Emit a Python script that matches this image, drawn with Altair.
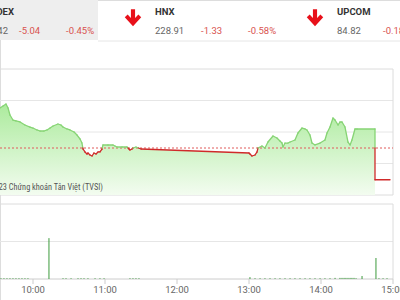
import altair as alt
import pandas as pd
import numpy as np

# ---------------- header data ----------------
index_names = ["VNINDEX", "HNX", "UPCOM"]
index_values = ["1,115.42", "228.91", "84.82"]
index_changes = ["-5.04", "-1.33", "-0.18"]
index_pcts = ["-0.45%", "-0.58%", "-0.21%"]

# ---------------- intraday VN-Index (minutes since midnight, points) ----------------
price_times = [572.5, 575.0, 577.5, 579.2, 580.8, 583.3, 585.8, 589.2, 593.3, 597.5,
               600.0, 603.3, 605.8, 609.2, 611.7, 614.2, 616.7, 620.8, 623.3, 625.0,
               628.3, 630.8, 634.2, 636.7, 639.2, 640.8, 641.7, 643.3, 645.0, 645.8,
               647.5, 649.2, 650.8, 652.5, 654.2, 655.8, 657.5, 658.3, 662.5, 666.7,
               668.3, 670.0, 674.2, 678.3, 680.0, 680.8, 682.5, 683.3, 685.8, 690.0,
               780.0, 780.8, 782.5, 785.0, 786.7, 787.5, 790.8, 793.3, 795.8, 800.0,
               803.3, 805.8, 807.5, 808.3, 810.0, 812.5, 814.2, 818.3, 820.8, 824.2,
               826.7, 828.3, 830.8, 832.5, 835.0, 839.2, 843.3, 845.0, 847.5, 850.0,
               851.7, 854.2, 855.8, 857.5, 860.0, 862.5, 864.2, 865.8, 868.3, 870.0,
               885.0]
price_values = [1126.81, 1127.13, 1127.44, 1126.81, 1125.70, 1124.90, 1124.75, 1124.59, 1124.11, 1123.79,
                1123.63, 1123.32, 1123.16, 1123.16, 1123.32, 1123.63, 1123.95, 1124.27, 1124.11, 1123.79,
                1123.48, 1123.32, 1123.00, 1122.52, 1121.89, 1121.25, 1120.30, 1119.83, 1119.51, 1119.67,
                1119.35, 1119.19, 1119.67, 1119.51, 1119.83, 1119.83, 1120.30, 1120.94, 1120.94, 1120.94,
                1120.78, 1120.62, 1120.62, 1120.62, 1120.30, 1120.14, 1120.30, 1120.46, 1120.62, 1120.30,
                1119.67, 1119.51, 1119.19, 1119.35, 1119.83, 1120.46, 1120.78, 1120.46, 1121.41, 1122.37,
                1122.05, 1121.57, 1121.25, 1120.62, 1121.25, 1121.25, 1121.41, 1121.73, 1122.84, 1123.63,
                1123.48, 1123.32, 1122.52, 1121.25, 1120.94, 1121.25, 1121.73, 1122.84, 1123.79, 1125.22,
                1124.90, 1124.11, 1124.59, 1124.59, 1123.79, 1121.41, 1120.94, 1121.73, 1123.48, 1123.48,
                1123.48]
ref_price = 1120.46
close_price = 1115.42
atc_times = [885.0, 897.5]

price_grid = [1118, 1123, 1128]
price_domain = [1113, 1133]
time_domain = [572.5, 900.0]
tick_times = [600, 660, 720, 780, 840, 900]
tick_labels = ["10:00", "11:00", "12:00", "13:00", "14:00", "15:00"]

# ---------------- volume (minutes since midnight, millions) ----------------
vol_times = [573.3, 575.8, 578.3, 580.8, 583.3, 585.8, 588.3, 590.8, 593.3, 595.8,
             613.3, 625.0, 627.5, 631.7, 637.5, 640.0, 642.5, 645.8, 651.7, 655.8,
             659.2, 680.8, 683.3, 685.8, 688.3,
             780.8, 785.0, 789.2, 793.3, 797.5, 801.7, 805.8, 810.0, 814.2, 818.3,
             822.5, 826.7, 830.8, 835.0, 839.2, 843.3, 847.5, 851.7, 855.8, 857.5,
             859.2, 860.8, 862.5, 864.2, 865.8, 867.5, 869.2, 874.2, 885.8, 888.3,
             891.7, 895.0]
vol_values = [0.02, 0.02, 0.02, 0.02, 0.02, 0.02, 0.02, 0.02, 0.02, 0.02,
              1.09, 0.02, 0.02, 0.02, 0.02, 0.02, 0.02, 0.02, 0.02, 0.02,
              0.02, 0.02, 0.02, 0.02, 0.02,
              0.05, 0.02, 0.02, 0.02, 0.02, 0.02, 0.02, 0.02, 0.02, 0.02,
              0.02, 0.02, 0.02, 0.02, 0.02, 0.02, 0.02, 0.03, 0.03, 0.03,
              0.03, 0.03, 0.03, 0.03, 0.03, 0.03, 0.02, 0.08, 0.56, 0.02,
              0.02, 0.02]
vol_grid = [1]
vol_domain = [0, 2]

# ---------------- styles ----------------
GREEN_LINE = "#86d474"
RED_LINE = "#d02a2a"
GRID = "#e6e6e6"
FRAME = "#dcdcdc"
FONT = "Roboto"

xs = alt.Scale(domain=time_domain, range=[0, 393], zero=False, nice=False)
ys_p = alt.Scale(domain=price_domain, range=[195, 69], zero=False, nice=False)
ys_v = alt.Scale(domain=vol_domain, range=[279, 204], zero=False, nice=False)


def X(field):
    return alt.X(f"{field}:Q", scale=xs, axis=None)


def YP(field):
    return alt.Y(f"{field}:Q", scale=ys_p, axis=None)


def YV(field):
    return alt.Y(f"{field}:Q", scale=ys_v, axis=None)


# ----- segments of price line split at the reference level -----
t_seq = price_times + atc_times
v_seq = price_values + [close_price, close_price]
rows = []
for i in range(len(t_seq) - 1):
    t0, v0, t1, v1 = t_seq[i], v_seq[i], t_seq[i + 1], v_seq[i + 1]
    if (v0 - ref_price) * (v1 - ref_price) < 0:
        tc = t0 + (ref_price - v0) / (v1 - v0) * (t1 - t0)
        pieces = [(t0, v0, tc, ref_price), (tc, ref_price, t1, v1)]
    else:
        pieces = [(t0, v0, t1, v1)]
    for a, b, c, d in pieces:
        rows.append({"t0": a, "v0": b, "t1": c, "v1": d,
                     "side": "up" if (b + d) / 2 >= ref_price else "down"})
seg_df = pd.DataFrame(rows)

area_df = pd.DataFrame({"t": price_times, "v": price_values, "base": price_domain[0]})

layers = []
one = pd.DataFrame({"k": [0]})

# header background & separator
layers.append(alt.Chart(one).mark_rect(color="#eeeeee").encode(
    x=alt.value(0), x2=alt.value(98), y=alt.value(0), y2=alt.value(40)))
layers.append(alt.Chart(one).mark_rule(color="#e6e6e6", strokeWidth=1).encode(
    x=alt.value(98), x2=alt.value(400), y=alt.value(41)))

# header texts
col_x = [-27, 155, 337]
for i in range(3):
    x0 = col_x[i]
    if i == 0:
        name_chart = alt.Chart(pd.DataFrame({"s": [index_names[i]]})).mark_text(
            align="right", baseline="middle", font=FONT, fontSize=9.5, fontWeight="bold", color="#333333"
        ).encode(text="s:N", x=alt.value(14), y=alt.value(12))
        val_chart = alt.Chart(pd.DataFrame({"s": [index_values[i]]})).mark_text(
            align="right", baseline="middle", font=FONT, fontSize=9.5, color="#666666"
        ).encode(text="s:N", x=alt.value(8), y=alt.value(31))
    else:
        name_chart = alt.Chart(pd.DataFrame({"s": [index_names[i]]})).mark_text(
            align="left", baseline="middle", font=FONT, fontSize=9.5, fontWeight="bold", color="#333333"
        ).encode(text="s:N", x=alt.value(x0), y=alt.value(12))
        val_chart = alt.Chart(pd.DataFrame({"s": [index_values[i]]})).mark_text(
            align="left", baseline="middle", font=FONT, fontSize=9.5, color="#666666"
        ).encode(text="s:N", x=alt.value(x0), y=alt.value(31))
    chg_chart = alt.Chart(pd.DataFrame({"s": [index_changes[i]]})).mark_text(
        align="left", baseline="middle", font=FONT, fontSize=9.5, color="#d9534f"
    ).encode(text="s:N", x=alt.value(x0 + 46), y=alt.value(31))
    pct_chart = alt.Chart(pd.DataFrame({"s": [index_pcts[i]]})).mark_text(
        align="left", baseline="middle", font=FONT, fontSize=9.5, color="#d9534f"
    ).encode(text="s:N", x=alt.value(x0 + 93), y=alt.value(31))
    layers += [name_chart, val_chart, chg_chart, pct_chart]

arrow_path = ("M-0.24,-1 L0.24,-1 L0.24,0.45 L-0.24,0.45 Z "
              "M-0.95,-0.08 L-0.62,-0.4 L0,0.25 L0.62,-0.4 L0.95,-0.08 L0,0.95 Z")
for ax in [133, 315]:
    layers.append(alt.Chart(one).mark_point(
        shape=arrow_path, filled=True, color="#e8101a", opacity=1, size=300, strokeWidth=0
    ).encode(x=alt.value(ax), y=alt.value(18)))

# price panel grid and frame
pg = pd.DataFrame({"v": price_grid, "t0": time_domain[0], "t1": time_domain[1]})
layers.append(alt.Chart(pg).mark_rule(color=GRID, strokeWidth=1).encode(
    x=X("t0"), x2="t1:Q", y=YP("v")))
pf = pd.DataFrame({"v": price_domain, "t0": time_domain[0], "t1": time_domain[1]})
layers.append(alt.Chart(pf).mark_rule(color=FRAME, strokeWidth=1).encode(
    x=X("t0"), x2="t1:Q", y=YP("v")))
pr = pd.DataFrame({"t": [time_domain[1]], "v0": [price_domain[0]], "v1": [price_domain[1]]})
layers.append(alt.Chart(pr).mark_rule(color=FRAME, strokeWidth=1).encode(
    x=X("t"), y=YP("v0"), y2="v1:Q"))

# area
grad = alt.Gradient(gradient="linear",
                    stops=[alt.GradientStop(color="#aceb9d", offset=0),
                           alt.GradientStop(color="#f3fcf0", offset=1)],
                    x1=1, x2=1, y1=0, y2=1)
layers.append(alt.Chart(area_df).mark_area(color=grad, interpolate="linear").encode(
    x=X("t"), y=YP("v"), y2="base:Q"))

# reference line
rf = pd.DataFrame({"v": [ref_price], "t0": time_domain[0], "t1": time_domain[1]})
layers.append(alt.Chart(rf).mark_rule(color="#e05a5a", strokeWidth=1, strokeDash=[2, 2]).encode(
    x=X("t0"), x2="t1:Q", y=YP("v")))

# price line segments
layers.append(alt.Chart(seg_df).mark_rule(strokeWidth=1.3, strokeCap="round").encode(
    x=X("t0"), x2="t1:Q", y=YP("v0"), y2="v1:Q",
    color=alt.Color("side:N", scale=alt.Scale(domain=["up", "down"], range=[GREEN_LINE, RED_LINE]),
                    legend=None)))

# copyright text
layers.append(alt.Chart(pd.DataFrame({"s": ["© 2023 Chứng khoán Tân Việt (TVSI)"]})).mark_text(
    align="right", baseline="middle", font="Liberation Sans Narrow, Roboto Condensed, Roboto",
    fontSize=8.3, color="#555555"
).encode(text="s:N", x=alt.value(103), y=alt.value(188)))

# volume panel grid and frame
vg = pd.DataFrame({"v": vol_grid, "t0": time_domain[0], "t1": time_domain[1]})
layers.append(alt.Chart(vg).mark_rule(color=GRID, strokeWidth=1).encode(
    x=X("t0"), x2="t1:Q", y=YV("v")))
vf = pd.DataFrame({"v": [vol_domain[1]], "t0": time_domain[0], "t1": time_domain[1]})
layers.append(alt.Chart(vf).mark_rule(color=FRAME, strokeWidth=1).encode(
    x=X("t0"), x2="t1:Q", y=YV("v")))
vr = pd.DataFrame({"t": [time_domain[1]], "v0": [vol_domain[0]], "v1": [vol_domain[1]]})
layers.append(alt.Chart(vr).mark_rule(color=FRAME, strokeWidth=1).encode(
    x=X("t"), y=YV("v0"), y2="v1:Q"))
# volume baseline (time axis line)
vb = pd.DataFrame({"v": [vol_domain[0]], "t0": time_domain[0], "t1": time_domain[1]})
layers.append(alt.Chart(vb).mark_rule(color="#cccccc", strokeWidth=1).encode(
    x=X("t0"), x2="t1:Q", y=YV("v")))

# volume bars
vol_df = pd.DataFrame({"t": vol_times, "vol": vol_values, "zero": 0})
layers.append(alt.Chart(vol_df).mark_rule(color="#3c9a3c", strokeWidth=1).encode(
    x=X("t"), y=YV("zero"), y2="vol:Q"))

# time axis ticks and labels
tk = pd.DataFrame({"t": tick_times, "label": tick_labels})
layers.append(alt.Chart(tk).mark_rule(color="#cccccc", strokeWidth=1).encode(
    x=X("t"), y=alt.value(279), y2=alt.value(284)))
layers.append(alt.Chart(tk).mark_text(
    align="center", baseline="middle", font=FONT, fontSize=9.5, color="#666666"
).encode(x=X("t"), y=alt.value(290), text="label:N"))

chart = alt.layer(*layers).resolve_scale(y="independent", color="independent").properties(
    width=400, height=300, padding=0,
    autosize=alt.AutoSizeParams(type="none")
).configure_view(strokeWidth=0).configure(background="white")

chart.save("out.html", embed_options={"renderer": "svg", "actions": False})
